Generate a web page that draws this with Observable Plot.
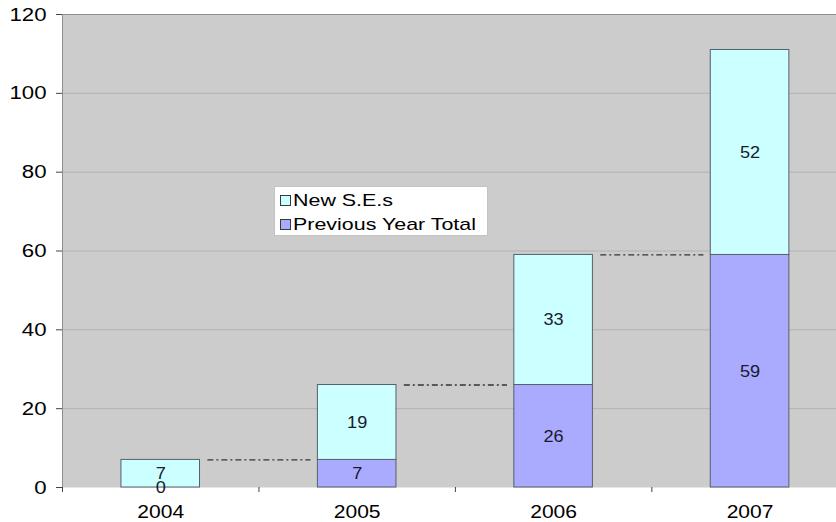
<!DOCTYPE html>
<html>
<head>
<meta charset="utf-8">
<script src="https://cdn.jsdelivr.net/npm/d3@7"></script>
<script src="https://cdn.jsdelivr.net/npm/@observablehq/plot@0.6"></script>
<style>
  body { margin: 0; background: #fff; }
  #wrap { position: relative; width: 836px; height: 522px; font-family: "Liberation Sans", Arial, sans-serif; }
  #legend { position: absolute; left: 274px; top: 186px; width: 214px; height: 50px; background: #fff;
            border: 1px solid #c4c4c4; box-sizing: border-box; }
  .item { position: absolute; left: 5px; height: 21px; display: flex; align-items: center; font-size: 17px; color: #000; white-space: nowrap; }
  .sw { width: 9px; height: 9px; border: 1px solid #3a3a3a; flex: none; }
  .lbl { display: inline-block; margin-left: 2px; transform: scaleX(1.26); transform-origin: left center; }
</style>
</head>
<body>
<div id="wrap"></div>
<script>
// ---- data ----
const years = [2004, 2005, 2006, 2007];
const previousYearTotal = [0, 7, 26, 59];
const newSEs = [7, 19, 33, 52];
const seriesNames = ["New S.E.s", "Previous Year Total"];
const seriesColors = ["#ccffff", "#aaaaff"];
const yTicks = [0, 20, 40, 60, 80, 100, 120];

// ---- derived tables ----
const xDomain = [years[0] - 0.5, years[years.length - 1] + 0.44];
const half = 0.2;
const rows = [];
years.forEach((yr, i) => {
  rows.push({year: yr, series: seriesNames[1], value: previousYearTotal[i], y1: 0, y2: previousYearTotal[i]});
  rows.push({year: yr, series: seriesNames[0], value: newSEs[i], y1: previousYearTotal[i], y2: previousYearTotal[i] + newSEs[i]});
});
const links = years.slice(0, -1).map((yr, i) => ({
  from: yr, to: years[i + 1], value: previousYearTotal[i] + newSEs[i]
}));
const bounds = years.map(y => y - 0.5);
const colorOf = s => seriesColors[seriesNames.indexOf(s)];

const chart = Plot.plot({
  width: 836,
  height: 522,
  marginLeft: 62,
  marginRight: 0,
  marginTop: 14,
  marginBottom: 35,
  style: {fontFamily: '"Liberation Sans", Arial, sans-serif', background: "#fff", overflow: "visible"},
  x: {domain: xDomain, axis: null, label: null},
  y: {domain: [yTicks[0], yTicks[yTicks.length - 1]], axis: null, label: null},
  marks: [
    Plot.frame({fill: "#cccccc", stroke: null}),
    Plot.gridY(yTicks.filter(v => v > yTicks[0] && v < yTicks[yTicks.length - 1]), {stroke: "#b2b2b2", strokeOpacity: 1, strokeWidth: 1}),
    Plot.ruleY([yTicks[yTicks.length - 1]], {stroke: "#8e8e8e", strokeWidth: 1}),
    Plot.ruleX([xDomain[0]], {stroke: "#8e8e8e", strokeWidth: 1}),
    Plot.rectY(rows, {
      x1: d => d.year - half, x2: d => d.year + half,
      y1: "y1", y2: "y2",
      fill: d => colorOf(d.series),
      stroke: "#56606c", strokeWidth: 1
    }),
    Plot.ruleY(links, {
      x1: d => d.from + 0.24, x2: d => d.to - 0.235, y: "value",
      stroke: "#333", strokeWidth: 1.3, strokeDasharray: "6,3,2,3"
    }),
    Plot.text(rows, {
      x: "year", y: d => (d.y1 + d.y2) / 2, text: d => String(d.value),
      fontSize: 16.5, fill: "#1a1a2e"
    }),
    Plot.axisY(yTicks, {tickSize: 6, tickPadding: 10, fontSize: 19, stroke: "#444", fill: "#000", label: null, tickFormat: d => String(d)}),
    Plot.axisX(bounds, {tickSize: 5, tickPadding: 0, stroke: "#444", label: null, tickFormat: () => ""}),
    Plot.axisX(years, {tickSize: 0, tickPadding: 18, fontSize: 18, fill: "#000", label: null, tickFormat: d => String(d)})
  ]
});

// stretch text horizontally to match the reference's wide lettering
function stretch(nodes, sx) {
  nodes.forEach(t => {
    const tr = t.getAttribute("transform");
    if (tr) t.setAttribute("transform", tr + ` scale(${sx},1)`);
    else {
      const x = +t.getAttribute("x") || 0, y = +t.getAttribute("y") || 0;
      t.removeAttribute("x"); t.removeAttribute("y");
      t.setAttribute("transform", `translate(${x},${y}) scale(${sx},1)`);
    }
  });
}
stretch(chart.querySelectorAll('g[aria-label$="tick label"] text'), 1.17);
stretch(chart.querySelectorAll('g[aria-label="text"] text'), 1.1);

const wrap = document.getElementById("wrap");
wrap.appendChild(chart);

// legend
const legend = document.createElement("div");
legend.id = "legend";
seriesNames.forEach((name, i) => {
  const item = document.createElement("div");
  item.className = "item";
  item.style.top = (i === 0 ? 3 : 27) + "px";
  const sw = document.createElement("span");
  sw.className = "sw";
  sw.style.background = seriesColors[i];
  const lbl = document.createElement("span");
  lbl.className = "lbl";
  lbl.textContent = name;
  item.appendChild(sw);
  item.appendChild(lbl);
  legend.appendChild(item);
});
wrap.appendChild(legend);
</script>
</body>
</html>
